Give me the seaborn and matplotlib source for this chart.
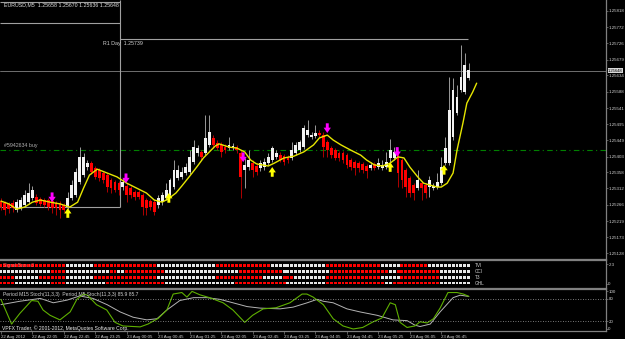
import numpy as np
import matplotlib
matplotlib.use("Agg")
import matplotlib.pyplot as plt
import matplotlib.transforms as mtransforms
import seaborn as sns

# ---------------- data (prices in points of 1e-5 above 1.25000) ----------------
BASE = 1.25
PIP = 1e-5

open_pts = [276, 270, 268, 270, 250, 256, 265, 273, 285, 288,
            282, 279, 279, 276, 270, 270, 265, 259, 285, 293,
            330, 350, 373, 384, 370, 364, 356, 350, 336, 330,
            327, 316, 319, 313, 302, 302, 293, 279, 276, 273,
            265, 273, 285, 293, 316, 342, 345, 356, 359, 387,
            413, 416, 413, 436, 456, 441, 436, 430, 427, 427,
            430, 413, 364, 373, 384, 376, 370, 373, 384, 393,
            402, 407, 404, 402, 399, 413, 421, 430, 464, 459,
            461, 470, 464, 444, 427, 421, 413, 413, 407, 393,
            387, 384, 382, 376, 370, 382, 373, 370, 373, 399,
            399, 407, 393, 364, 342, 322, 313, 327, 322, 316,
            313, 316, 327, 384, 384, 459, 527, 592, 587, 627]
close_pts = [259, 250, 253, 256, 273, 279, 293, 299, 307, 270,
             268, 265, 259, 256, 256, 250, 250, 285, 322, 359,
             402, 402, 384, 359, 345, 342, 336, 316, 313, 307,
             307, 330, 293, 293, 288, 288, 259, 256, 259, 245,
             285, 293, 307, 336, 364, 364, 359, 373, 402, 430,
             427, 402, 456, 473, 436, 427, 416, 421, 436, 433,
             421, 345, 379, 393, 364, 359, 384, 387, 402, 427,
             413, 393, 387, 393, 421, 436, 444, 484, 478, 464,
             470, 464, 430, 421, 407, 399, 399, 393, 379, 373,
             370, 370, 364, 362, 379, 370, 384, 379, 387, 421,
             416, 356, 336, 316, 299, 299, 336, 313, 299, 336,
             319, 330, 373, 427, 535, 592, 573, 630, 664, 649]
high_pts = [285, 276, 273, 279, 282, 288, 307, 327, 319, 296,
            288, 285, 285, 282, 276, 276, 270, 302, 336, 370,
            430, 413, 393, 390, 376, 370, 362, 356, 342, 336,
            333, 342, 327, 319, 307, 307, 299, 285, 282, 279,
            293, 302, 327, 342, 393, 379, 373, 384, 421, 450,
            436, 421, 521, 521, 464, 450, 444, 439, 459, 441,
            436, 421, 399, 421, 393, 384, 393, 399, 413, 433,
            421, 416, 410, 407, 444, 444, 450, 493, 507, 473,
            493, 478, 473, 450, 433, 427, 419, 419, 413, 399,
            393, 390, 387, 382, 387, 387, 399, 393, 416, 453,
            430, 421, 399, 370, 347, 327, 364, 333, 327, 347,
            327, 356, 402, 459, 630, 627, 607, 721, 698, 669]
low_pts = [250, 236, 242, 245, 245, 250, 259, 268, 279, 265,
           262, 259, 250, 242, 236, 228, 245, 253, 279, 288,
           325, 345, 364, 353, 339, 333, 327, 302, 299, 302,
           293, 307, 273, 285, 279, 282, 236, 236, 250, 236,
           256, 265, 279, 288, 310, 336, 339, 350, 353, 382,
           404, 393, 407, 430, 427, 421, 402, 413, 421, 421,
           413, 285, 313, 364, 345, 350, 362, 364, 379, 387,
           396, 387, 379, 384, 393, 407, 416, 424, 459, 453,
           456, 459, 402, 402, 399, 393, 390, 384, 370, 364,
           350, 359, 356, 342, 364, 364, 367, 364, 367, 387,
           393, 316, 313, 288, 288, 279, 307, 279, 285, 288,
           307, 310, 322, 379, 379, 450, 521, 587, 581, 621]

# yellow moving average (bar index, points)
ma_bar = [0, 2, 4, 6, 8, 10, 12.5, 15, 17.5, 19.5, 21, 22.5, 24.5, 27, 29.5,
          32, 34.5, 37, 39, 41, 42.5, 44.5, 46, 48, 50, 51.5, 53, 54.5, 55.5, 58,
          60, 62, 63.5, 65, 66.5, 68, 69.5, 72, 74.5, 77, 79.5, 81, 83, 84.5, 86.5,
          89, 91.5, 93, 95, 97, 99, 101, 102.5, 104, 106, 107.5, 109, 111, 112,
          113.5, 115, 116, 117.5, 118.5, 120, 121]
ma_pts = [276, 268, 253, 259, 273, 279, 273, 268, 259, 273, 313, 350, 367, 356, 345,
          327, 313, 299, 279, 273, 282, 299, 319, 347, 376, 399, 416, 433, 439, 430,
          427, 416, 393, 382, 379, 376, 384, 399, 404, 416, 436, 456, 464, 450, 436,
          421, 407, 393, 379, 376, 384, 402, 399, 373, 345, 327, 322, 316, 316,
          327, 356, 421, 498, 555, 587, 612]

# signal arrows (bar index, tip price in points)
sell_bar = [13, 31.8, 61.6, 83, 100.8]
sell_pts = [273, 327, 387, 470, 402]
buy_bar = [17, 42.7, 69, 99, 112.7]
buy_pts = [256, 299, 373, 387, 379]

# levels
bid_price = 1.25648
order_price = 1.25422
r1_today = 1.25739
prev_levels = [1.25844, 1.25783, 1.25259]
day_change_bar = 30.3
last_bar = 118.8

price_ticks = [1.25818, 1.25772, 1.25726, 1.25679, 1.25634, 1.25588, 1.25541, 1.25495,
               1.25449, 1.25403, 1.25358, 1.25312, 1.25266, 1.25219, 1.25173, 1.25128]

# signal grid rows: run lengths of Red / White squares
row_names = ["TVI", "CCI", "T3", "GHL"]
row_runs = [
    [("R", 17), ("W", 7), ("R", 16), ("W", 15), ("R", 14), ("W", 14), ("R", 14), ("W", 5), ("R", 7), ("W", 11)],
    [("W", 13), ("R", 4), ("W", 11), ("R", 2), ("W", 2), ("R", 10), ("W", 19), ("R", 11), ("W", 12), ("R", 15), ("W", 2), ("R", 11), ("W", 8)],
    [("R", 4), ("W", 6), ("R", 7), ("W", 7), ("R", 16), ("W", 15), ("R", 12), ("W", 5), ("R", 3), ("W", 8), ("R", 14), ("W", 5), ("R", 10), ("W", 8)],
    [("R", 4), ("W", 9), ("R", 4), ("W", 10), ("R", 15), ("W", 18), ("R", 13), ("W", 10), ("R", 15), ("W", 2), ("R", 12), ("W", 8)],
]

# stochastics
m5_bar = [0, 2.7, 4.8, 7.8, 9.4, 10.7, 12.5, 15, 17.6, 19.3, 21, 22, 24.3, 26.9, 29, 31,
          35.4, 37.4, 40, 42.2, 43.8, 46, 47.3, 48.6, 50.6, 53.2, 56.5, 59, 62, 64, 66.7,
          70, 73.5, 76.6, 77.8, 79.4, 82, 84.5, 87, 89.6, 92, 94.7, 96.9, 99, 100.3, 101.5,
          103.3, 105.3, 106.6, 108.4, 110, 111.7, 113.7, 116, 117.6, 119]
m5_val = [78, 13, 41, 75, 73, 50, 36, 24, 45, 78, 92, 89, 64, 50, 17.5, 8,
          5.5, 13, 28, 50, 92, 96, 84, 99, 90, 82, 69, 50, 17.5, 36, 53,
          56, 69, 92, 92, 84, 64, 27, 8, 0, 4, 19, 29, 69, 64, 17.5,
          4, 8, 19, 16, 27, 55, 96, 96, 92, 85.9]
m15_bar = [0, 4.8, 10, 13.3, 16.8, 20, 23.4, 27, 30.3, 33.6, 37.1, 39.7, 42.2, 45.5, 49,
           52.4, 55.7, 59, 62.6, 65.9, 71, 74.3, 77.9, 80.4, 82, 84.5, 88, 91.3, 95.7, 99.7,
           103.3, 105.3, 106.6, 109.2, 111.7, 115, 116.8, 119]
m15_val = [64, 73, 80.5, 69, 76, 87, 80.5, 64, 45, 31, 24, 27, 50, 75, 82.5,
           82.5, 78, 69, 59, 55, 53, 57.5, 69, 78, 73, 69, 53, 45, 36, 24,
           22, 10, 6.5, 13, 45, 82.5, 89, 85.7]

time_labels = ["22 Aug 2012", "22 Aug 22:05", "22 Aug 22:45", "22 Aug 23:25", "23 Aug 00:05",
               "23 Aug 00:45", "23 Aug 01:25", "23 Aug 02:05", "23 Aug 02:45", "23 Aug 03:25",
               "23 Aug 04:05", "23 Aug 04:45", "23 Aug 05:25", "23 Aug 06:05", "23 Aug 06:45"]
time_ticks = [0, 8, 16, 24, 32, 40, 48, 56, 64, 72, 80, 88, 96, 104, 112]

# ---------------- style ----------------
sns.set_style("dark")
plt.rcParams['font.family'] = ['Liberation Sans', 'DejaVu Sans']
GRAY = '#808080'
TXT = '#d0d0d0'

fig = plt.figure(figsize=(6.25, 3.39), dpi=100, facecolor='black')
ax1 = fig.add_axes([0, 0.2360, 0.9696, 0.7640])
ax2 = fig.add_axes([0, 0.1504, 0.9696, 0.0826])
ax3 = fig.add_axes([0, 0.0236, 0.9696, 0.1239])

XL = (-0.25, 153.9)
for ax in (ax1, ax2, ax3):
    ax.set_facecolor('black')
    ax.grid(False)
    ax.set_xlim(*XL)
    ax.spines['left'].set_visible(False)
    for s in ('right', 'top', 'bottom'):
        ax.spines[s].set_color(GRAY)
        ax.spines[s].set_linewidth(0.9)
    ax.yaxis.tick_right()
    ax.tick_params(axis='y', which='both', right=True, left=False, labelright=True,
                   labelleft=False, length=1.2, width=0.5, color=GRAY, labelsize=3.2,
                   labelcolor=TXT, pad=0.5)
    ax.tick_params(axis='x', bottom=False, labelbottom=False)
ax1.spines['top'].set_visible(False)

# ---------------- main price panel ----------------
o = BASE + np.array(open_pts) * PIP
c = BASE + np.array(close_pts) * PIP
h = BASE + np.array(high_pts) * PIP
l = BASE + np.array(low_pts) * PIP
bars = np.arange(len(c))
up = c >= o
ax1.set_ylim(1.25111, 1.25849)

ax1.vlines(bars, l, h, colors=np.where(up, '#9a9a9a', '#b00000'), lw=0.7, zorder=2)
ax1.bar(bars, np.maximum(np.abs(c - o), 1.5 * PIP), bottom=np.minimum(o, c), width=0.72,
        color=np.where(up, '#f2f2f2', '#ff0000'), linewidth=0, zorder=3)

sns.lineplot(x=ma_bar, y=BASE + np.array(ma_pts) * PIP, ax=ax1, color='#e6e600',
             lw=1.0, sort=False, estimator=None, zorder=4)

# levels
ax1.axhline(bid_price, color=GRAY, lw=0.6, zorder=1)
ax1.axhline(order_price, color='#008000', lw=0.8, linestyle=(0, (5, 3, 1, 3)), zorder=1)
ax1.hlines(r1_today, day_change_bar, last_bar, color='#a0a0a0', lw=0.8, zorder=1)
ax1.hlines(prev_levels, XL[0], day_change_bar, color='#a0a0a0', lw=0.8, zorder=1)
ax1.vlines(day_change_bar, prev_levels[-1], 1.25849, color='#a0a0a0', lw=0.8, zorder=1)

off = mtransforms.offset_copy
ax1.text(26, r1_today, "R1 Day  1.25739", fontsize=3.8, color=TXT, va='top', ha='left',
         transform=off(ax1.transData, fig=fig, y=-1.5, units='points'))
ax1.text(0.8, order_price, "#5942634 buy", fontsize=3.8, color='#b0b0b0', va='bottom', ha='left',
         transform=off(ax1.transData, fig=fig, y=1.5, units='points'))
ax1.text(0.007, 0.981, "EURUSD,M5  1.25658 1.25670 1.25636 1.25648", fontsize=3.8, color='#e0e0e0',
         va='center', ha='left', transform=ax1.transAxes)

# arrows
for b, p in zip(sell_bar, sell_pts):
    ax1.annotate('', xy=(b, BASE + p * PIP), xytext=(0, 7), textcoords='offset points',
                 arrowprops=dict(arrowstyle='simple,head_width=0.75,head_length=0.55,tail_width=0.3',
                                 color='#ff00ff', mutation_scale=7, shrinkA=0, shrinkB=0, lw=0), zorder=5)
for b, p in zip(buy_bar, buy_pts):
    ax1.annotate('', xy=(b, BASE + p * PIP), xytext=(0, -7), textcoords='offset points',
                 arrowprops=dict(arrowstyle='simple,head_width=0.75,head_length=0.55,tail_width=0.3',
                                 color='#ffff00', mutation_scale=7, shrinkA=0, shrinkB=0, lw=0), zorder=5)

ax1.set_yticks(price_ticks)
ax1.set_yticklabels([f"{t:.5f}" for t in price_ticks])
btr = mtransforms.blended_transform_factory(ax1.transAxes, ax1.transData)
ax1.text(1.003, bid_price, f"{bid_price:.5f}", transform=btr, fontsize=3.0, color='black',
         va='center', ha='left', clip_on=False, zorder=10,
         bbox=dict(facecolor='#d8d8d8', edgecolor='none', pad=0.2))

# ---------------- signal grid panel ----------------
xs, ys, cs = [], [], []
for r, runs in enumerate(row_runs):
    i = 0
    for col, n in runs:
        for _ in range(n):
            xs.append(i)
            ys.append(3 - r)
            cs.append(col)
            i += 1
sns.scatterplot(x=xs, y=ys, hue=cs, palette={'R': '#ff0000', 'W': '#e6e6e6'}, marker='s', s=4.5,
                linewidth=0, legend=False, ax=ax2)
ax2.set_ylim(-0.86, 3.95)
for r, name in enumerate(row_names):
    ax2.text(120.5, 3 - r, name, fontsize=3.4, color=TXT, va='center', ha='left')
ax2.text(0.5, 3.05, "Signal Bars v3", fontsize=3.4, color='#ff7070', va='center', ha='left', zorder=5)
ax2.set_yticks([3.26, -0.17])
ax2.set_yticklabels(["2.3", "0"])
ax2.set_xlim(*XL)

# ---------------- stochastic panel ----------------
sns.lineplot(x=m15_bar, y=m15_val, ax=ax3, color='#b4b4b4', lw=0.7, sort=False, estimator=None)
sns.lineplot(x=m5_bar, y=m5_val, ax=ax3, color='#5fb000', lw=0.8, sort=False, estimator=None)
for lev in (80, 20):
    ax3.axhline(lev, color='#a0a0a0', lw=0.6, linestyle=(0, (1, 2)))
ax3.set_ylim(-5.3, 105.3)
ax3.set_yticks([100, 80, 20, 0])
ax3.set_yticklabels(["100", "80", "20", "0"])
ax3.text(0.5, 92, "Period M15 Stoch(11,3,3)  Period M5 Stoch(11,3,3) 85.9 85.7", fontsize=3.6,
         color=TXT, va='center', ha='left')
ax3.text(0.3, 2, "VPFX Trader, \u00a9 2001-2012, MetaQuotes Software Corp.", fontsize=3.6,
         color='#f0f0f0', va='center', ha='left')
ax3.set_xticks(time_ticks)
ax3.set_xticklabels(time_labels, ha='left')
ax3.tick_params(axis='x', bottom=True, labelbottom=True, length=2, width=0.5, color=GRAY,
                labelsize=3.2, labelcolor=TXT, pad=1)
ax3.set_xlim(*XL)

for ax in (ax1, ax2, ax3):
    ax.set_xlabel('')
    ax.set_ylabel('')

fig.savefig('out.png', dpi=100, facecolor='black')
